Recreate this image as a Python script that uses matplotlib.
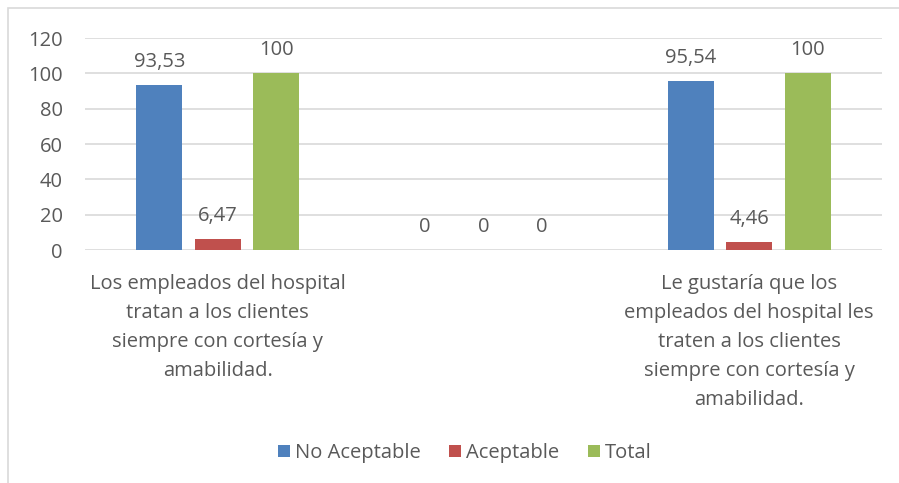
import matplotlib.pyplot as plt
import numpy as np
from matplotlib.patches import Rectangle

plt.rcParams['font.family'] = ['Open Sans', 'DejaVu Sans']

categorias = [
    "Los empleados del hospital\ntratan a los clientes\nsiempre con cortesía y\namabilidad.",
    "",
    "Le gustaría que los\nempleados del hospital les\ntraten a los clientes\nsiempre con cortesía y\namabilidad.",
]
no_aceptable = [93.53, 0, 95.54]
aceptable = [6.47, 0, 4.46]
total = [100, 0, 100]

series = [
    ("No Aceptable", no_aceptable, "#4F81BD"),
    ("Aceptable", aceptable, "#C0504D"),
    ("Total", total, "#9BBB59"),
]

gris = "#595959"
fs = 14.5
W, H = 899, 483
fig = plt.figure(figsize=(W / 100, H / 100), dpi=100)

# borde del gráfico
fig.patches.append(Rectangle((8 / W, -0.1), 1.2, 1 - 8 / H + 0.1, transform=fig.transFigure,
                             fill=False, edgecolor="#d9d9d9", linewidth=1.2))

ax = fig.add_axes([85 / W, (H - 250) / H, (882 - 85) / W, 212 / H])

x = np.arange(len(categorias))
ancho = 0.173
paso = 0.22
for i, (nombre, valores, color) in enumerate(series):
    pos = x + (i - 1) * paso
    ax.bar(pos, valores, ancho, color=color, label=nombre, zorder=3)
    for xp, v in zip(pos, valores):
        txt = f"{v:g}".replace(".", ",")
        ax.annotate(txt, (xp, v), xytext=(0, 13), textcoords="offset points",
                    ha="center", va="baseline", fontsize=fs, color=gris)

ax.set_xlim(-0.5, 2.5)
ax.set_ylim(0, 120)
ax.set_yticks(range(0, 121, 20))
ax.set_xticks(x)
ax.set_xticklabels(categorias, fontsize=fs, color=gris, linespacing=1.6)
ax.tick_params(axis="y", length=0, pad=16, labelsize=fs, labelcolor=gris)
ax.tick_params(axis="x", length=0, pad=17)
ax.grid(axis="y", color="#d9d9d9", linewidth=1.2, zorder=0)
for s in ax.spines.values():
    s.set_visible(False)

fig.legend(loc="center", bbox_to_anchor=(465 / W, 1 - 453 / H), ncol=3, frameon=False,
           fontsize=fs, handlelength=0.6, handleheight=0.6, handletextpad=0.25,
           columnspacing=1.4, labelcolor=gris)

plt.savefig("out.png", dpi=100)
